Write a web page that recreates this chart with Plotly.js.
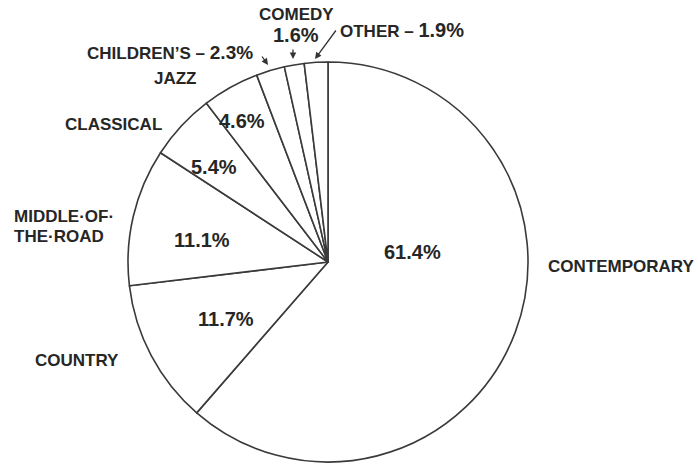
<!DOCTYPE html>
<html><head><meta charset="utf-8">
<script src="https://cdn.plot.ly/plotly-3.0.1.min.js"></script>
<style>html,body{margin:0;padding:0;background:#fff}#chart{width:698px;height:466px}</style>
</head><body><div id="chart"></div>
<script>
const categories = ["CONTEMPORARY","COUNTRY","MIDDLE·OF·THE·ROAD","CLASSICAL","JAZZ","CHILDREN’S","COMEDY","OTHER"];
const shares = [61.4, 11.7, 11.1, 5.4, 4.6, 2.3, 1.6, 1.9];

const W = 698, H = 466;
const px = (x) => x / W;
const py = (y) => 1 - y / H;
const fam = '"Liberation Sans", Arial, sans-serif';
const ink = '#262626';
const pct = v => v.toFixed(1) + '%';

const pie = {
  type: 'pie',
  labels: categories,
  values: shares,
  sort: false,
  direction: 'clockwise',
  rotation: 0,
  textinfo: 'none',
  hoverinfo: 'label+percent',
  marker: {colors: categories.map(() => '#ffffff'), line: {color: '#3a3a3a', width: 1.6}},
  domain: {x: [px(128), px(528)], y: [py(462), py(62)]},
  showlegend: false
};

function lab(text, x, y, size, xanchor) {
  return {text: '<b>' + text + '</b>', x: px(x), y: py(y), xref: 'paper', yref: 'paper',
    showarrow: false, xanchor: xanchor || 'center', yanchor: 'middle',
    font: {family: fam, size: size, color: ink}};
}
function arrow(x, y, ax, ay) {
  return {text: '', x: px(x), y: py(y), xref: 'paper', yref: 'paper', showarrow: true,
    ax: ax - x, ay: ay - y, arrowhead: 2, arrowsize: 1, arrowwidth: 1.3, arrowcolor: '#333', standoff: 0};
}

const L = 17, P = 20;
const mor = categories[2].split('·THE');
const annotations = [
  // inner percentages
  lab(pct(shares[0]), 412, 252, P),
  lab(pct(shares[1]), 226, 319, P),
  lab(pct(shares[2]), 202, 240, P),
  lab(pct(shares[3]), 214, 167, P),
  lab(pct(shares[4]), 242, 121, P),
  // outer labels
  lab(categories[0], 546, 266, L, 'left'),
  lab(categories[1], 33, 360, L, 'left'),
  lab(mor[0] + '·', 12, 216, L, 'left'),
  lab('THE' + mor[1], 12, 236, L, 'left'),
  lab(categories[3], 63, 125, L, 'left'),
  lab(categories[4], 152, 79, L, 'left'),
  {text: '<b>' + categories[5] + ' – </b><b><span style="font-size:19px">' + pct(shares[5]) + '</span></b>',
    x: px(85), y: py(53), xref: 'paper', yref: 'paper', showarrow: false, xanchor: 'left', yanchor: 'middle',
    font: {family: fam, size: L, color: ink}},
  lab(categories[6], 296, 14, L),
  lab(pct(shares[6]), 296, 35, P),
  {text: '<b>' + categories[7] + ' – </b><b><span style="font-size:20px">' + pct(shares[7]) + '</span></b>',
    x: px(338), y: py(30), xref: 'paper', yref: 'paper', showarrow: false, xanchor: 'left', yanchor: 'middle',
    font: {family: fam, size: L, color: ink}},
  // arrows
  arrow(268, 65, 261, 55),
  arrow(293, 59, 293, 48),
  arrow(315, 59, 337, 29)
];

const layout = {
  width: W, height: H,
  margin: {l: 0, r: 0, t: 0, b: 0},
  paper_bgcolor: '#ffffff',
  plot_bgcolor: '#ffffff',
  showlegend: false,
  annotations: annotations
};

Plotly.newPlot('chart', [pie], layout, {displayModeBar: false, staticPlot: true});
</script>
</body></html>
